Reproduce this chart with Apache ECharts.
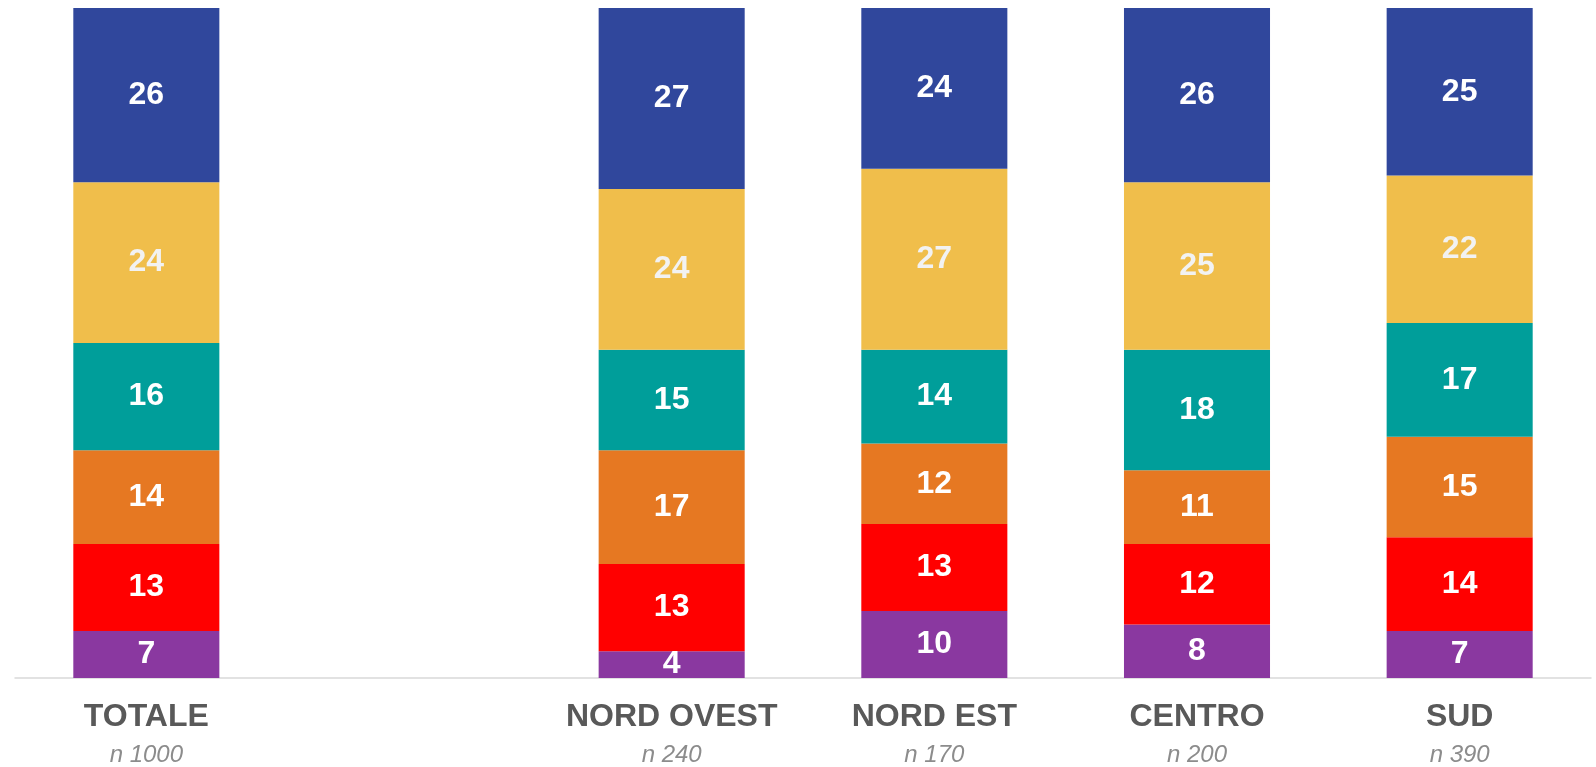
<!DOCTYPE html>
<html>
<head>
<meta charset="utf-8">
<script src="https://cdn.jsdelivr.net/npm/echarts@6/dist/echarts.min.js"></script>
<style>
  html, body { margin: 0; padding: 0; background: #ffffff; }
  #chart { width: 1596px; height: 767px; }
</style>
</head>
<body>
<div id="chart"></div>
<script>
// Categories (an empty slot separates the total from the areas)
const categories = ['TOTALE', '', 'NORD OVEST', 'NORD EST', 'CENTRO', 'SUD'];
const sampleSizes = ['n 1000', '', 'n 240', 'n 170', 'n 200', 'n 390'];

// Segment values, bottom to top
const purpleValues = [7, '-', 4, 10, 8, 7];
const redValues    = [13, '-', 13, 13, 12, 14];
const orangeValues = [14, '-', 17, 12, 11, 15];
const tealValues   = [16, '-', 15, 14, 18, 17];
const yellowValues = [24, '-', 24, 27, 25, 22];
const blueValues   = [26, '-', 27, 24, 26, 25];

const seriesDefs = [
  { name: 'viola',     data: purpleValues, color: '#8A38A0', labelColor: '#ffffff' },
  { name: 'rosso',     data: redValues,    color: '#FF0000', labelColor: '#ffffff' },
  { name: 'arancione', data: orangeValues, color: '#E67822', labelColor: '#ffffff' },
  { name: 'verde',     data: tealValues,   color: '#009E9A', labelColor: '#ffffff' },
  { name: 'giallo',    data: yellowValues, color: '#F0BE4B', labelColor: '#F2F2F2' },
  { name: 'blu',       data: blueValues,   color: '#30479C', labelColor: '#ffffff' }
];

const chart = echarts.init(document.getElementById('chart'), null, { renderer: 'canvas' });

chart.setOption({
  animation: false,
  grid: { left: 15, right: 5, top: 8, bottom: 88, containLabel: false },
  xAxis: {
    type: 'category',
    data: categories,
    axisTick: { show: false },
    axisLine: { show: true, lineStyle: { color: '#D9D9D9', width: 1.5 } },
    axisLabel: {
      interval: 0,
      margin: 18,
      formatter: function (value, idx) {
        if (!value) return '';
        return '{a|' + value + '}\n{b|' + sampleSizes[idx] + '}';
      },
      rich: {
        a: { fontFamily: 'Liberation Sans, Arial, sans-serif', fontWeight: 'bold', fontSize: 32, color: '#595959', lineHeight: 42 },
        b: { fontFamily: 'Liberation Sans, Arial, sans-serif', fontStyle: 'italic', fontSize: 24, color: '#8C8C8C', lineHeight: 34 }
      }
    }
  },
  yAxis: {
    type: 'value',
    min: 0,
    max: 100,
    show: false,
    splitLine: { show: false }
  },
  series: seriesDefs.map(function (s) {
    return {
      name: s.name,
      type: 'bar',
      stack: 'totale',
      barWidth: '55.6%',
      data: s.data,
      itemStyle: { color: s.color },
      label: {
        show: true,
        position: 'inside',
        color: s.labelColor,
        fontFamily: 'Liberation Sans, Arial, sans-serif',
        fontWeight: 'bold',
        fontSize: 32
      }
    };
  })
});
</script>
</body>
</html>
